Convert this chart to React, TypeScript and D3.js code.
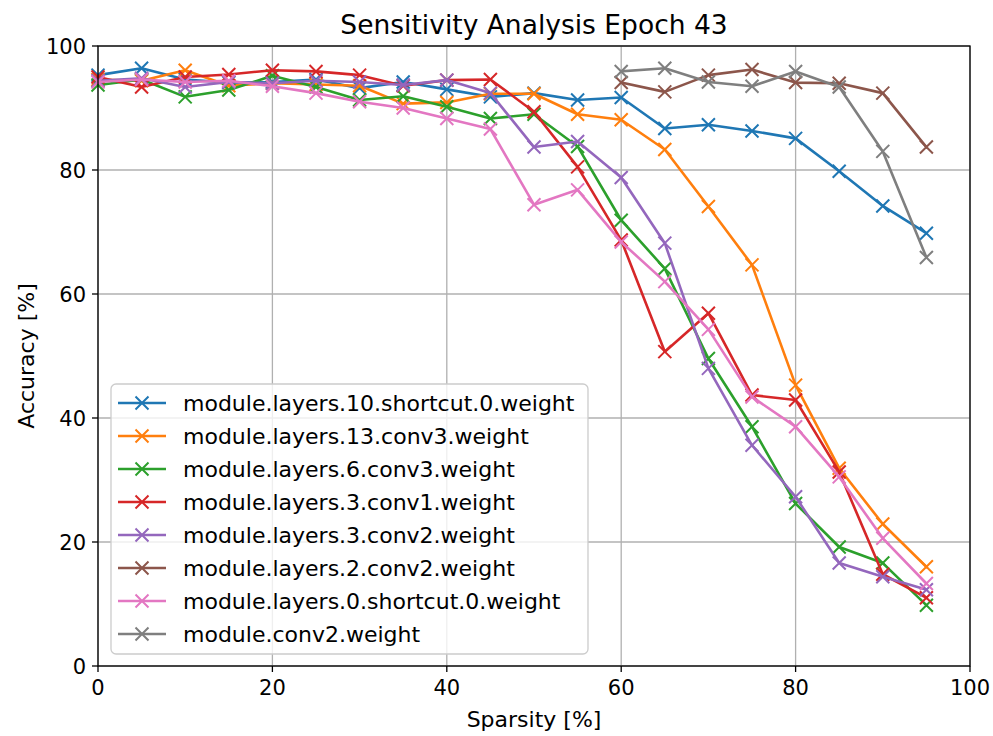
import React, { useEffect } from 'react';
import * as d3 from 'd3';

// Sparsity levels (%) at which each layer was pruned
const sparsityFull = [0, 5, 10, 15, 20, 25, 30, 35, 40, 45, 50, 55, 60, 65, 70, 75, 80, 85, 90, 95];
const sparsityTail = [60, 65, 70, 75, 80, 85, 90, 95];

// Accuracy (%) per layer
const layers10Shortcut0 = [95.3, 96.4, 94.6, 94.1, 94.2, 94.6, 93.2, 94.2, 93.0, 91.8, 92.4, 91.3, 91.7, 86.7, 87.3, 86.3, 85.1, 79.8, 74.2, 69.8];
const layers13Conv3 = [94.6, 94.4, 96.1, 93.6, 94.0, 93.8, 93.6, 90.7, 90.9, 92.3, 92.3, 89.0, 88.1, 83.3, 74.1, 64.7, 45.3, 31.9, 22.9, 16.0];
const layers6Conv3 = [93.7, 94.6, 91.8, 92.9, 95.2, 93.4, 91.3, 91.9, 90.2, 88.3, 89.0, 83.8, 71.9, 64.1, 49.6, 38.6, 26.2, 19.2, 16.6, 9.8];
const layers3Conv1 = [95.0, 93.4, 95.0, 95.4, 96.1, 95.9, 95.3, 93.6, 94.5, 94.6, 89.4, 80.5, 68.7, 50.7, 56.9, 43.7, 42.9, 31.3, 14.8, 11.0];
const layers3Conv2 = [94.4, 94.8, 93.4, 94.2, 94.0, 94.4, 94.2, 93.7, 94.5, 92.4, 83.7, 84.6, 78.8, 68.2, 48.0, 35.6, 27.3, 16.6, 14.4, 12.3];
const layers2Conv2 = [94.1, 92.6, 95.3, 96.2, 94.1, 94.0, 92.4, 83.7];
const layers0Shortcut0 = [94.2, 94.6, 94.2, 94.4, 93.5, 92.4, 91.0, 90.0, 88.3, 86.6, 74.4, 76.8, 68.4, 62.0, 54.3, 43.4, 38.6, 30.5, 20.6, 13.3];
const conv2 = [95.9, 96.4, 94.2, 93.5, 95.9, 93.4, 83.0, 65.9];

const seriesNames = [
  'module.layers.10.shortcut.0.weight',
  'module.layers.13.conv3.weight',
  'module.layers.6.conv3.weight',
  'module.layers.3.conv1.weight',
  'module.layers.3.conv2.weight',
  'module.layers.2.conv2.weight',
  'module.layers.0.shortcut.0.weight',
  'module.conv2.weight',
];
const seriesColors = ['#1f77b4', '#ff7f0e', '#2ca02c', '#d62728', '#9467bd', '#8c564b', '#e377c2', '#7f7f7f'];
const seriesX = [sparsityFull, sparsityFull, sparsityFull, sparsityFull, sparsityFull, sparsityTail, sparsityFull, sparsityTail];
const seriesY = [layers10Shortcut0, layers13Conv3, layers6Conv3, layers3Conv1, layers3Conv2, layers2Conv2, layers0Shortcut0, conv2];

const xTicks = [0, 20, 40, 60, 80, 100];
const yTicks = [0, 20, 40, 60, 80, 100];

const W = 993;
const H = 736;
const M = { left: 98, right: 970, top: 46, bottom: 666 };
const FONT = '"DejaVu Sans", sans-serif';

const x = d3.scaleLinear().domain([0, 100]).range([M.left, M.right]);
const y = d3.scaleLinear().domain([0, 100]).range([M.bottom, M.top]);

const MS = 6.5; // half-size of the x marker
const xMarker = `M${-MS},${-MS}L${MS},${MS}M${-MS},${MS}L${MS},${-MS}`;

export default function App() {
  useEffect(() => {
    document.body.style.margin = '0';
  }, []);

  const series = seriesNames.map((name, i) => ({
    name,
    color: seriesColors[i],
    points: seriesX[i].map((v, j) => [v, seriesY[i][j]] as [number, number]),
  }));
  const line = d3.line<[number, number]>().x((d) => x(d[0])).y((d) => y(d[1]));

  const legend = { x: 111, y: 384, w: 477, h: 270, rowH: 33, firstRow: 403 };

  return (
    <svg width={W} height={H} style={{ position: 'absolute', left: 0, top: 0, background: '#fff' }}>
      <rect x={0} y={0} width={W} height={H} fill="#fff" />
      {/* grid */}
      {xTicks.map((t) => (
        <line key={'gx' + t} x1={x(t)} x2={x(t)} y1={M.top} y2={M.bottom} stroke="#b0b0b0" strokeWidth={1.3} />
      ))}
      {yTicks.map((t) => (
        <line key={'gy' + t} x1={M.left} x2={M.right} y1={y(t)} y2={y(t)} stroke="#b0b0b0" strokeWidth={1.3} />
      ))}
      {/* series */}
      <g clipPath="none">
        {series.map((s) => (
          <g key={s.name}>
            <path d={line(s.points) || ''} fill="none" stroke={s.color} strokeWidth={2.6} strokeLinejoin="round" strokeLinecap="square" />
            {s.points.map((p, j) => (
              <path key={j} d={xMarker} transform={`translate(${x(p[0])},${y(p[1])})`} stroke={s.color} strokeWidth={2} fill="none" />
            ))}
          </g>
        ))}
      </g>
      {/* frame */}
      <rect x={M.left} y={M.top} width={M.right - M.left} height={M.bottom - M.top} fill="none" stroke="#000" strokeWidth={1.3} />
      {/* ticks */}
      {xTicks.map((t) => (
        <g key={'tx' + t}>
          <line x1={x(t)} x2={x(t)} y1={M.bottom} y2={M.bottom + 6} stroke="#000" strokeWidth={1.3} />
          <text x={x(t)} y={M.bottom + 29} textAnchor="middle" fontFamily={FONT} fontSize={21} fill="#000">{t}</text>
        </g>
      ))}
      {yTicks.map((t) => (
        <g key={'ty' + t}>
          <line x1={M.left - 6} x2={M.left} y1={y(t)} y2={y(t)} stroke="#000" strokeWidth={1.3} />
          <text x={M.left - 12} y={y(t) + 7.5} textAnchor="end" fontFamily={FONT} fontSize={21} fill="#000">{t}</text>
        </g>
      ))}
      {/* labels */}
      <text x={(M.left + M.right) / 2} y={727} textAnchor="middle" fontFamily={FONT} fontSize={22} fill="#000">Sparsity [%]</text>
      <text transform={`translate(34,${(M.top + M.bottom) / 2}) rotate(-90)`} textAnchor="middle" fontFamily={FONT} fontSize={22} fill="#000">Accuracy [%]</text>
      <text x={(M.left + M.right) / 2} y={34} textAnchor="middle" fontFamily={FONT} fontSize={26.5} fill="#000">Sensitivity Analysis Epoch 43</text>
      {/* legend */}
      <rect x={legend.x} y={legend.y} width={legend.w} height={legend.h} rx={5} fill="#fff" fillOpacity={0.8} stroke="#cccccc" strokeWidth={1.3} />
      {series.map((s, i) => {
        const cy = legend.firstRow + i * legend.rowH;
        return (
          <g key={'lg' + s.name}>
            <line x1={118} x2={166} y1={cy} y2={cy} stroke={s.color} strokeWidth={2.6} />
            <path d={xMarker} transform={`translate(142,${cy})`} stroke={s.color} strokeWidth={2} fill="none" />
            <text x={183} y={cy + 8} fontFamily={FONT} fontSize={22} fill="#000">{s.name}</text>
          </g>
        );
      })}
    </svg>
  );
}
